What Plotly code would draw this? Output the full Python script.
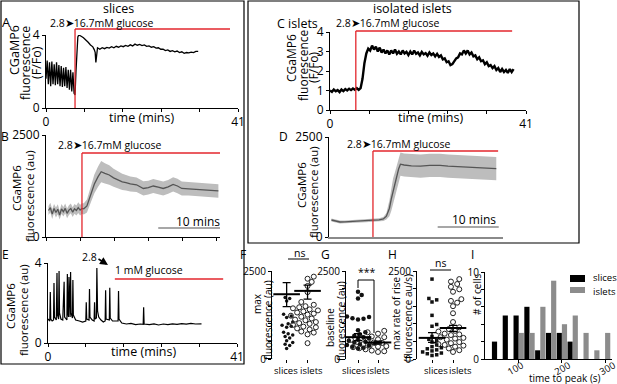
import plotly.graph_objects as go

W, H = 617, 384
def X(p): return p / W
def Y(p): return 1 - p / H

RED = '#e3262c'
FONT = 'Open Sans'

# ---------------- data ----------------
# A: slice, Ca trace (F/Fo)
A_t = [0, .25, .5, .75, 1.0, 1.25, 1.5, 1.75, 2.0, 2.25, 2.5, 2.75, 3.0, 3.25, 3.5, 3.75, 4.0, 4.25, 4.5, 4.75,
       5.0, 5.25, 5.5, 5.75, 6.0, 6.2, 6.4, 6.6, 6.8, 7.0, 7.3, 7.6, 8.0, 8.5, 9.0, 9.5, 10.0, 10.3, 10.5, 10.65,
       10.8, 11.0, 11.5, 12, 12.5, 13, 13.5, 14, 14.5, 15, 15.5, 16, 16.5, 17, 17.5, 18, 18.5, 19, 19.5, 20,
       20.5, 21, 21.5, 22, 22.5, 23, 23.5, 24, 24.5, 25, 25.5, 26, 26.5, 27, 27.5, 28, 28.5, 29, 29.5, 30,
       30.5, 31, 31.5, 32, 32.5]
A_v = [1.6, 2.6, 1.3, 2.5, 1.2, 2.55, 1.3, 2.4, 1.25, 2.5, 1.3, 2.35, 1.2, 2.3, 1.15, 2.2, 1.2, 2.25, 1.1, 2.1,
       1.0, 2.1, 0.9, 1.95, 0.8, 0.72, 2.0, 3.3, 3.9, 4.0, 3.98, 3.92, 3.85, 3.75, 3.6, 3.45, 3.35, 3.2, 3.05, 2.5,
       3.1, 3.3, 3.22, 3.3, 3.25, 3.32, 3.28, 3.36, 3.3, 3.38, 3.33, 3.4, 3.36, 3.43, 3.38, 3.46, 3.4, 3.5, 3.44, 3.48,
       3.42, 3.46, 3.38, 3.4, 3.33, 3.36, 3.28, 3.3, 3.22, 3.22, 3.15, 3.18, 3.1, 3.14, 3.08, 3.12, 3.04, 3.08, 3.0, 3.04,
       3.02, 3.06, 3.04, 3.1, 3.1]
A_STIM, A_STIM_END = 6.2, 39.3

# B: slices, mean +/- sem (au)
B_t = [0.4, 0.7, 1.0, 1.3, 1.6, 1.9, 2.2, 2.5, 2.8, 3.1, 3.4, 3.7, 4.0, 4.3, 4.6, 4.9, 5.2, 5.5, 5.8, 6.1,
       6.6, 7.2, 7.8, 8.4, 8.9, 9.5, 10.2, 10.9, 11.6, 12.3, 12.9, 13.6, 14.6, 15.7, 16.5, 17.3, 18.1, 18.9, 19.7, 20.5,
       21.2, 21.9, 23.0, 24.0, 25.0, 26.0, 27.0, 27.8]
B_mean = [650, 720, 560, 700, 600, 680, 540, 690, 620, 700, 580, 660, 700, 610, 690, 650, 720, 660, 700, 690,
          760, 1050, 1300, 1480, 1600, 1560, 1520, 1450, 1400, 1350, 1330, 1300, 1280, 1190, 1210, 1250, 1220, 1190, 1230, 1290,
          1250, 1190, 1180, 1170, 1160, 1150, 1140, 1130]
B_sem = [110, 120, 120, 110, 120, 120, 110, 120, 115, 120, 120, 120, 120, 120, 120, 120, 130, 130, 130, 140,
         160, 200, 230, 250, 260, 250, 240, 220, 210, 200, 190, 185, 180, 175, 170, 170, 170, 170, 170, 175,
         175, 170, 165, 165, 165, 165, 165, 165]
B_STIM, B_STIM_END = 5.8, 28.2

# C: isolated islet trace (F/Fo), sampled every 0.4 min
C_v = [1.0, 0.93, 1.05, 0.96, 1.02, 0.92, 1.05, 0.97, 1.07, 1.0, 1.09, 1.02, 1.1, 1.04, 1.12, 1.03,
       1.12, 1.6, 2.4, 2.9, 3.15, 3.05, 3.3, 3.1, 3.25, 3.0, 3.2, 2.95, 3.1, 2.9,
       3.05, 2.85, 3.05, 2.9, 3.1, 2.88, 3.0, 2.85, 3.05, 2.9,
       2.98, 2.82, 3.0, 2.85, 3.05, 2.88, 2.95, 2.8, 2.98, 2.85,
       2.92, 2.78, 2.95, 2.82, 2.9, 2.75, 2.88, 2.72, 2.8, 2.6,
       2.65, 2.45, 2.5, 2.3, 2.35, 2.5, 2.65, 2.7, 2.9, 2.85,
       3.05, 2.9, 3.05, 2.85, 2.95, 2.75, 2.8, 2.6, 2.7, 2.5,
       2.55, 2.35, 2.45, 2.25, 2.3, 2.15, 2.25, 2.05, 2.15, 1.95,
       2.1, 1.95, 2.05, 1.9, 2.1, 1.95, 2.1]
C_t = [0.4 * i for i in range(len(C_v))]
C_STIM, C_STIM_END = 5.4, 38.1

# D: isolated islets mean +/- sem (au)
D_t = [0.4, 1.0, 1.8, 2.6, 3.4, 4.2, 5.1, 6.0, 7.2, 8.2, 8.9, 9.4, 9.9, 10.2, 10.5, 10.8, 11.1, 11.4, 11.7, 12.3,
       13.5, 15.0, 16.5, 18.2, 19.5, 20.9, 22.3, 23.6, 25.0, 26.3, 27.4]
D_mean = [425, 400, 375, 380, 390, 395, 400, 405, 420, 430, 450, 520, 720, 950, 1150, 1320, 1500, 1700, 1820, 1800,
          1780, 1770, 1790, 1790, 1770, 1760, 1750, 1730, 1720, 1720, 1710]
D_sem = [40, 40, 35, 35, 35, 35, 35, 35, 40, 40, 50, 80, 200, 300, 320, 300, 280, 280, 290, 290,
         290, 290, 290, 290, 290, 290, 290, 290, 290, 290, 290]
D_STIM, D_STIM_END = 7.2, 27.7

# E: slice at 1 mM glucose
E_t = [0, 0.4, 0.5, 0.6, 0.9, 1.2, 1.3, 1.4, 1.8, 1.95, 2.05, 2.3, 2.4, 2.5, 2.8, 3.2, 3.5, 3.6, 4.1, 4.2,
       4.3, 4.45, 4.55, 4.65, 4.8, 4.9, 5.0, 5.3, 5.4, 5.5, 6.0, 6.8, 7.5, 8.2, 8.3, 8.4, 8.9, 9.0, 9.1, 9.6,
       10.0, 10.1, 10.2, 10.5, 10.6, 10.75, 11.0, 11.5, 12.0, 12.4, 12.5, 12.6, 13.3, 13.4, 13.5, 14.0, 15.2, 15.3, 15.4, 16.0,
       17, 18, 19, 20, 20.65, 20.75, 20.85, 22, 23, 24, 25, 26, 27, 28, 29, 30, 31, 32, 33.3]
E_v = [1.2, 1.1, 2.55, 1.2, 1.1, 1.15, 3.0, 1.3, 1.15, 3.5, 1.4, 1.2, 3.6, 1.5, 1.2, 1.15, 3.06, 1.3, 1.15, 3.45,
       1.5, 1.3, 3.3, 1.4, 1.3, 3.55, 1.5, 1.25, 3.15, 1.4, 1.15, 1.1, 1.05, 1.1, 2.04, 1.2, 1.15, 2.7, 1.3, 1.15,
       1.1, 2.04, 1.2, 1.25, 3.75, 1.6, 1.3, 1.15, 1.05, 1.1, 2.64, 1.2, 1.15, 2.76, 1.25, 1.1, 1.1, 2.6, 1.2, 1.0,
       0.95, 0.98, 0.92, 0.95, 0.93, 1.79, 0.95, 0.92, 0.96, 0.9, 0.95, 0.92, 0.96, 0.93, 0.97, 0.94, 0.98, 0.95, 0.96]
E_LOW_START, E_LOW_END = 14.5, 38.0

# F, G, H: per-cell scatter (au)
F_slices = [2530, 1750, 1720, 1650, 1270, 1220, 1180, 1050, 1000, 960, 930, 900, 760, 720, 680, 640, 600, 520, 470, 420, 380, 300]
F_islets = [2660, 2340, 2280, 2190, 2075, 1900, 1620, 1580, 1540, 1500, 1470, 1440, 1410, 1380, 1350, 1320, 1290, 1260,
            1230, 1200, 1170, 1150, 1120, 1100, 1080, 1050, 1020, 1000, 970, 950, 920, 900, 870, 840, 810, 780, 750, 700, 450]
F_mean, F_lo, F_hi = [1840, 1935], [1490, 1700], [2170, 2100]

G_slices = [1910, 1820, 1720, 1210, 1190, 1160, 1140, 1120, 820, 760, 700, 660, 620, 580, 550, 520, 490, 470, 440, 420,
            400, 380, 350, 320, 300]
G_islets = [800, 760, 720, 690, 660, 640, 620, 600, 580, 560, 545, 530, 515, 500, 485, 470, 455, 440, 425, 410,
            395, 380, 365, 350, 335, 320, 305, 290, 275, 260, 240, 220, 200]
G_mean, G_lo, G_hi = [620, 470], [520, 430], [720, 510]

H_slices = [2270, 1720, 1680, 1620, 1240, 980, 930, 640, 560, 520, 480, 400, 350, 320, 290, 260, 230, 200, 170, 150, 120, 100]
H_islets = [2270, 2200, 2130, 2050, 1980, 1910, 1700, 1650, 1600, 1500, 1300, 1050, 900, 850, 800, 780, 750, 720, 700, 680,
            650, 620, 600, 580, 550, 520, 500, 480, 450, 420, 400, 380, 350, 300, 250, 200]
H_mean, H_lo, H_hi = [600, 880], [470, 785], [750, 955]

GROUPS = ['slices', 'islets']

# I: histogram of time to peak
I_bins = [50, 75, 100, 125, 150, 175, 200, 225, 250, 275, 300]
I_slices = [2, 5, 5, 6, 1, 3, 3, 2, 0, 0, 0]
I_islets = [0, 0, 3, 3, 6, 9, 4, 5, 3, 1, 3]
I_ticks = [100, 200, 300]

# ---------------- figure ----------------
fig = go.Figure()
ann = []
shapes = []

def text(t, x, y, size=11, xa='center', ya='middle', angle=0, color='black'):
    ann.append(dict(text=t, x=X(x), y=Y(y), xref='paper', yref='paper', showarrow=False,
                    font=dict(size=size, color=color, family=FONT), xanchor=xa, yanchor=ya, textangle=angle))

def pline(x0, y0, x1, y1, color='black', width=1):
    shapes.append(dict(type='line', xref='paper', yref='paper', x0=X(x0), y0=Y(y0), x1=X(x1), y1=Y(y1),
                       line=dict(color=color, width=width)))

base = dict(showline=True, linecolor='black', linewidth=1, ticks='outside', ticklen=3, tickcolor='black',
            showgrid=False, zeroline=False, automargin=False, tickangle=0,
            tickfont=dict(size=12, color='black', family=FONT))

def xax(d0, d1, rng, anchor, **kw):
    a = dict(base); a.update(domain=[X(d0), X(d1)], range=rng, anchor=anchor); a.update(kw); return a

def yax(bot, top, rng, anchor, **kw):
    a = dict(base); a.update(domain=[Y(bot), Y(top)], range=rng, anchor=anchor); a.update(kw); return a

T41 = [0, 8.2, 16.4, 24.6, 32.8, 41]
L41 = ['0', '', '', '', '', '41']

layout_axes = {}
# A
layout_axes['xaxis'] = xax(46, 238, [0, 41], 'y', tickvals=T41, ticktext=L41)
layout_axes['yaxis'] = yax(108, 35, [0, 4], 'x', tickvals=[0, 4])
# B
layout_axes['xaxis2'] = xax(46, 220, [0, 28.06], 'y2', tickvals=[0, 5.5, 11, 16.5, 22, 27.5], ticktext=[''] * 6)
layout_axes['yaxis2'] = yax(237, 135, [0, 2500], 'x2', tickvals=[0, 2500])
# C
layout_axes['xaxis3'] = xax(330, 526, [0, 41], 'y3', tickvals=T41, ticktext=L41)
layout_axes['yaxis3'] = yax(110, 32, [0, 4], 'x3', tickvals=[0, 1, 2, 3, 4])
# D
layout_axes['xaxis4'] = xax(329, 503, [0, 28.5], 'y4', ticks='', showticklabels=False, linecolor='#8a8a8a', linewidth=2)
layout_axes['yaxis4'] = yax(237, 137, [0, 2500], 'x4', tickvals=[0, 2500])
# E
layout_axes['xaxis5'] = xax(48, 237, [0, 41], 'y5', tickvals=T41, ticktext=L41)
layout_axes['yaxis5'] = yax(343, 263, [0, 4], 'x5', tickvals=[0, 4])

small = dict(size=10, color='black', family=FONT)
yt = [0, 500, 1000, 1500, 2000, 2500]
ytl = ['0', '', '', '', '', '2500']
# F
layout_axes['xaxis6'] = xax(272, 318, [-0.7, 1.5], 'y6', showline=False, tickvals=[0, 1], ticktext=['', ''], tickfont=small)
layout_axes['yaxis6'] = yax(359, 271, [0, 2500], 'x6', tickvals=yt, ticktext=ytl, tickfont=small)
# G
layout_axes['xaxis7'] = xax(346, 388, [-0.6, 1.5], 'y7', showline=False, tickvals=[0, 1], ticktext=['', ''], tickfont=small)
layout_axes['yaxis7'] = yax(359, 271, [0, 2500], 'x7', tickvals=yt, ticktext=ytl, tickfont=small)
# H
layout_axes['xaxis8'] = xax(417, 465, [-0.714, 1.57], 'y8', showline=False, tickvals=[0, 1], ticktext=['', ''], tickfont=small)
layout_axes['yaxis8'] = yax(359, 271, [0, 2500], 'x8', tickvals=yt, ticktext=ytl, tickfont=small)
# I
layout_axes['xaxis9'] = xax(485, 612, [22, 316], 'y9', tickvals=I_ticks, ticktext=['', '', ''], tickfont=small)
layout_axes['yaxis9'] = yax(359, 272, [0, 10], 'x9', tickvals=[0, 2, 4, 6, 8, 10],
                            ticktext=['0', '', '', '', '', '10'], tickfont=small)

# ---- traces ----
fig.add_trace(go.Scatter(x=A_t, y=A_v, mode='lines', line=dict(color='black', width=1.3), xaxis='x', yaxis='y'))

def band(t, m, s, xa, ya):
    up = [a + b for a, b in zip(m, s)]
    lo = [a - b for a, b in zip(m, s)]
    fig.add_trace(go.Scatter(x=t, y=up, mode='lines', line=dict(width=0), xaxis=xa, yaxis=ya))
    fig.add_trace(go.Scatter(x=t, y=lo, mode='lines', line=dict(width=0), fill='tonexty',
                             fillcolor='#bdbdbd', xaxis=xa, yaxis=ya))
    fig.add_trace(go.Scatter(x=t, y=m, mode='lines', line=dict(color='#555555', width=1.3), xaxis=xa, yaxis=ya))

band(B_t, B_mean, B_sem, 'x2', 'y2')
fig.add_trace(go.Scatter(x=C_t, y=C_v, mode='lines', line=dict(color='black', width=2.4), xaxis='x3', yaxis='y3'))
band(D_t, D_mean, D_sem, 'x4', 'y4')
fig.add_trace(go.Scatter(x=E_t, y=E_v, mode='lines', line=dict(color='black', width=1.2), xaxis='x5', yaxis='y5'))

def swarm(vals, center, ypx, xpx, d):
    placed = []
    xs = [0.0] * len(vals)
    step = d * 0.4
    offs = [0.0]
    for m in range(1, 40):
        offs += [m * step, -m * step]
    for i in sorted(range(len(vals)), key=lambda k: vals[k]):
        yv = vals[i] * ypx
        for o in offs:
            if all((o - a) ** 2 + (yv - b) ** 2 >= d * d for a, b in placed):
                break
        placed.append((o, yv))
        xs[i] = center + o / xpx
    return xs

ypx = 88 / 2500
def scatter_panel(sl, isl, mean, lo, hi, xa, ya, xpx, sl_sym, sl_size, sl_d):
    fig.add_trace(go.Scatter(x=swarm(sl, 0, ypx, xpx, sl_d), y=sl, mode='markers', cliponaxis=False,
                             marker=dict(symbol=sl_sym, size=sl_size, color='#111111', line=dict(width=0)),
                             xaxis=xa, yaxis=ya))
    fig.add_trace(go.Scatter(x=swarm(isl, 1, ypx, xpx, 5.2), y=isl, mode='markers', cliponaxis=False,
                             marker=dict(symbol='circle-open', size=5, color='#222222', line=dict(width=1)),
                             xaxis=xa, yaxis=ya))
    fig.add_trace(go.Scatter(x=[0, 1], y=mean, mode='markers', cliponaxis=False,
                             marker=dict(symbol='line-ew', size=19, line=dict(color='black', width=2)),
                             error_y=dict(type='data', symmetric=False,
                                          array=[h - m for h, m in zip(hi, mean)],
                                          arrayminus=[m - l for m, l in zip(mean, lo)],
                                          width=4, thickness=1.3, color='black'),
                             xaxis=xa, yaxis=ya))

scatter_panel(F_slices, F_islets, F_mean, F_lo, F_hi, 'x6', 'y6', 20.9, 'circle', 3.5, 3.8)
scatter_panel(G_slices, G_islets, G_mean, G_lo, G_hi, 'x7', 'y7', 20.0, 'circle', 4.5, 4.6)
scatter_panel(H_slices, H_islets, H_mean, H_lo, H_hi, 'x8', 'y8', 21.0, 'square', 3.5, 3.9)

fig.add_trace(go.Bar(x=I_bins, y=I_slices, marker=dict(color='black', line=dict(width=0)), xaxis='x9', yaxis='y9', name='slices'))
fig.add_trace(go.Bar(x=I_bins, y=I_islets, marker=dict(color='#8c8c8c', line=dict(width=0)), xaxis='x9', yaxis='y9', name='islets'))

# ---- stimulus lines (x in data units, y in paper) ----
def stim(xref, t0, t1, ybot, ytop, yh):
    shapes.append(dict(type='line', xref=xref, yref='paper', x0=t0, x1=t0, y0=Y(ybot), y1=Y(ytop),
                       line=dict(color=RED, width=1.3)))
    shapes.append(dict(type='line', xref=xref, yref='paper', x0=t0, x1=t1, y0=Y(yh), y1=Y(yh),
                       line=dict(color=RED, width=1.3)))

stim('x', A_STIM, A_STIM_END, 108, 29, 29)
stim('x2', B_STIM, B_STIM_END, 237, 153, 153)
stim('x3', C_STIM, C_STIM_END, 110, 31, 31)
stim('x4', D_STIM, D_STIM_END, 237, 151, 151)
shapes.append(dict(type='line', xref='x5', yref='paper', x0=E_LOW_START, x1=E_LOW_END, y0=Y(279), y1=Y(279),
                   line=dict(color=RED, width=1.6)))

# scale bars (10 min)
shapes.append(dict(type='line', xref='x2', yref='paper', x0=18.1, x1=28.1, y0=Y(228), y1=Y(228),
                   line=dict(color='#8a8a8a', width=1.5)))
shapes.append(dict(type='line', xref='x4', yref='paper', x0=17.8, x1=27.8, y0=Y(227), y1=Y(227),
                   line=dict(color='#8a8a8a', width=1.5)))

# boxes
shapes.append(dict(type='rect', xref='paper', yref='paper', x0=X(1), y0=Y(364), x1=X(244), y1=Y(1),
                   line=dict(color='black', width=1.2)))
shapes.append(dict(type='rect', xref='paper', yref='paper', x0=X(248), y0=Y(243), x1=X(579), y1=Y(1),
                   line=dict(color='black', width=1.2)))

# brackets
pline(288, 259, 309, 259)
pline(358, 280, 374, 280); pline(358, 280, 358, 288); pline(374, 280, 374, 333)
pline(430, 270, 451, 270)

# legend I
shapes.append(dict(type='rect', xref='paper', yref='paper', x0=X(570), x1=X(585), y0=Y(282), y1=Y(275),
                   fillcolor='black', line=dict(width=0)))
shapes.append(dict(type='rect', xref='paper', yref='paper', x0=X(570), x1=X(585), y0=Y(293), y1=Y(287),
                   fillcolor='#8c8c8c', line=dict(width=0)))

# ---- texts ----
text('slices', 118, 8, 12.5)
text('isolated islets', 412, 8, 12.5)
text('A', 6, 22, 13)
text('B', 5, 137, 12)
text('E', 5, 254, 12)
text('C islets', 297, 23, 12.5)
text('D', 283, 136, 12)
text('F', 243, 254, 12); text('G', 325, 254, 12); text('H', 392, 254, 12); text('I', 472, 254, 12)

GL = '2.8\u27a416.7mM glucose'
text(GL, 48, 23, 10.5, xa='left')
text(GL, 56, 145, 10.5, xa='left')
text(GL, 334, 23, 10.5, xa='left')
text(GL, 345, 144, 10.5, xa='left')
text('1 mM glucose', 113, 270, 10.5, xa='left')
text('2.8', 80, 257, 10.5, xa='left')
ann.append(dict(x=X(108), y=Y(265), xref='paper', yref='paper', ax=-11, ay=-7, text='', showarrow=True,
                arrowhead=2, arrowsize=1, arrowwidth=1.6, arrowcolor='black'))

text('time (mins)', 141, 117, 12.5)
text('time (mins)', 430, 117, 12.5)
text('time (mins)', 143, 351, 12.5)
text('10 mins', 222, 221, 12, xa='right')
text('10 mins', 498, 219, 12, xa='right')

# y titles
text('CGaMP6', 14, 50, 12.5, angle=-90)
text('fluorescence', 25, 63, 12.5, angle=-90)
text('(F/Fo)', 36, 63, 12.5, angle=-90)
text('CGaMP6', 292, 58, 12, angle=-90)
text('fluorescence', 303, 65, 12, angle=-90)
text('(F/Fo)', 314, 67, 12, angle=-90)
text('CGaMP6', 17, 188, 11.5, angle=-90)
text('fluorescence (au)', 29, 196, 11.5, angle=-90)
text('CGaMP6', 302, 185, 11.5, angle=-90)
text('fluorescence (au)', 313, 192, 11.5, angle=-90)
text('CGaMP6', 10, 306, 11.5, angle=-90)
text('fluorescence (au)', 23, 310, 11.5, angle=-90)
text('max', 257, 304, 10, angle=-90)
text('fluorescence (au)', 268, 320, 10, angle=-90)
text('baseline', 330, 327, 10, angle=-90)
text('fluorescence (au)', 341, 321, 10, angle=-90)
text('max rate of rise', 396, 314, 10, angle=-90)
text('(fluorescence au/s)', 408, 318, 10, angle=-90)
text('# of cells', 477, 295, 10, angle=-90)
text('time to peak (s)', 565, 378, 10)
text('ns', 299, 253, 10.5)
text('***', 367, 272, 10.5)
text('ns', 440, 263, 10.5)
text('slices', 591, 277, 9.5, xa='left')
text('islets', 591, 291, 9.5, xa='left')

# category labels under F, G, H
for cx, lab in [(286, GROUPS[0]), (311, GROUPS[1]), (354, GROUPS[0]), (378, GROUPS[1]),
                (436, GROUPS[0]), (460, GROUPS[1])]:
    text(lab, cx, 370, 9.5)
# rotated histogram tick labels
for cx, lab in [(515, I_ticks[0]), (562, I_ticks[1]), (607, I_ticks[2])]:
    text(str(lab), cx, 368, 9.5, angle=-30)

fig.update_layout(template='none', width=W, height=H, margin=dict(l=0, r=0, t=0, b=0, pad=0, autoexpand=False),
                  paper_bgcolor='white', plot_bgcolor='white',
                  showlegend=False, barmode='group', bargap=0.04, bargroupgap=0, hovermode=False,
                  font=dict(family=FONT, color='black'), annotations=ann, shapes=shapes, **layout_axes)
fig.write_html('out.html', config={'displayModeBar': False},
               post_script="document.body.style.margin='0';document.body.style.padding='0';")
